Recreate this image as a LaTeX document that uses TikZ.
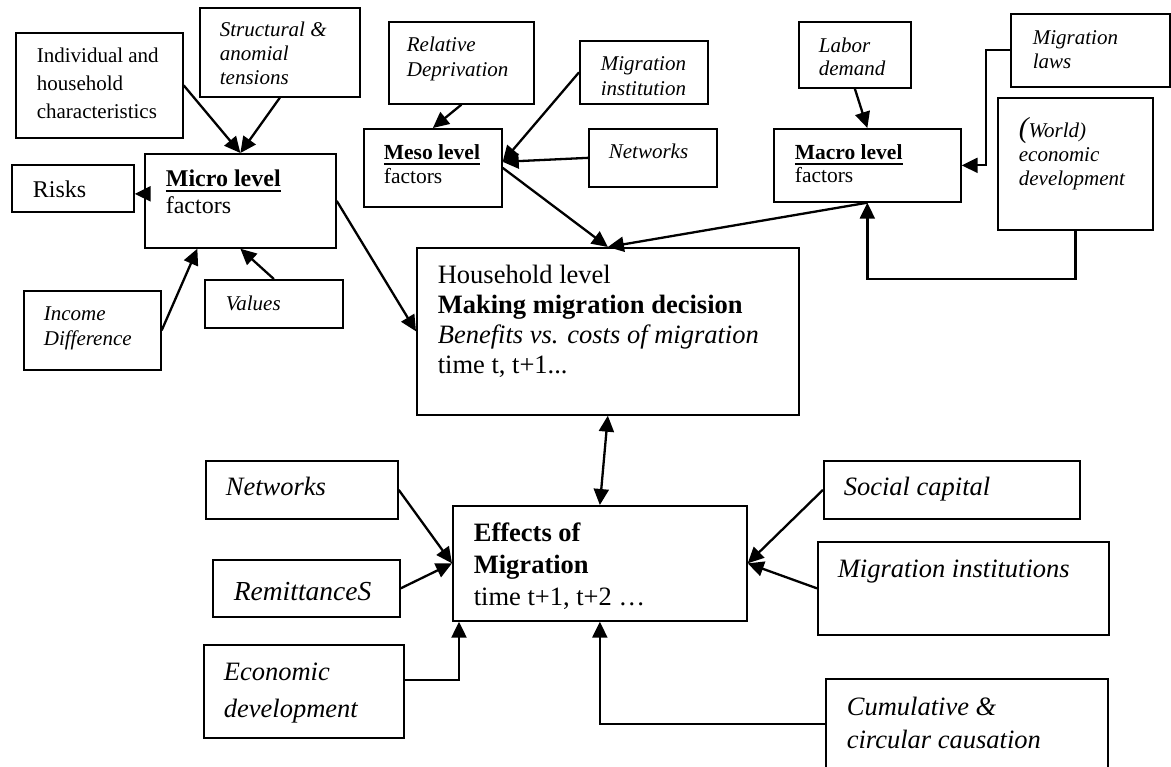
\documentclass[tikz,border=0pt]{standalone}
\usepackage{fontspec}
\setmainfont{Liberation Serif}
\usetikzlibrary{arrows.meta}

% width, height, first baseline, left margin, text
\newcommand{\boxtext}[5]{\parbox[t][#2pt][t]{#1pt}{\raggedright\leftskip=#4pt\relax\rule{0pt}{#3pt}#5}}
\newcommand{\lvlhead}[1]{\setbox0=\hbox{\bfseries #1}\rlap{\rule[-5pt]{\wd0}{2pt}}\box0}

\tikzset{
  fac/.style={draw, line width=1.7pt, inner sep=0pt, anchor=north west},
  sm/.style={font=\fontsize{21}{25}\selectfont\itshape},
  lg/.style={font=\fontsize{26.5}{30}\selectfont\itshape},
  arr/.style={line width=2.3pt, -{Triangle[length=16pt,width=15pt]}},
  dbl/.style={line width=2.3pt, {Triangle[length=16pt,width=15pt]}-{Triangle[length=16pt,width=15pt]}}
}

\begin{document}
\begin{tikzpicture}[x=1pt, y=-1pt]
\useasboundingbox (0,0) rectangle (1171,767);
\clip (0,0) rectangle (1171,767);

\node[fac, font=\fontsize{21}{28}\selectfont] (i1) at (15,32) {\boxtext{167}{105}{30}{21}{Individual and\\household\\characteristics}};
\node[fac, sm, font=\fontsize{21}{24}\selectfont\itshape] (i2) at (199,7) {\boxtext{160}{89}{29}{20}{Structural \&\\anomial\\tensions}};
\node[fac, font=\fontsize{24}{27}\selectfont] (mi) at (144,153) {\boxtext{191}{94}{33}{21}{\lvlhead{Micro level}\\factors}};
\node[fac, font=\fontsize{24}{27}\selectfont] (i3) at (11,164) {\boxtext{122}{47}{33}{21}{Risks}};
\node[fac, sm] (i4) at (23,290) {\boxtext{137}{79}{30}{20}{Income\\Difference}};
\node[fac, sm] (i5) at (204,279) {\boxtext{138}{48}{31}{21}{Values}};

\node[fac, sm] (m1) at (388,21) {\boxtext{145}{82}{30}{18}{Relative\\Deprivation}};
\node[fac, sm] (m2) at (579,40) {\boxtext{128}{63}{30}{21}{Migration\\institution}};
\node[fac, font=\fontsize{21.5}{24}\selectfont] (me) at (363,128) {\boxtext{138}{78}{31}{20}{\lvlhead{Meso level}\\factors}};
\node[fac, sm] (m3) at (588,128) {\boxtext{128}{58}{30}{20}{Networks}};

\node[fac, sm, font=\fontsize{21}{23}\selectfont\itshape] (a1) at (798,21) {\boxtext{112}{66}{31}{20}{Labor\\demand}};
\node[fac, sm, font=\fontsize{21}{23.5}\selectfont\itshape] (a2) at (1010,13) {\boxtext{159}{73}{31}{22}{Migration\\laws}};
\node[fac, font=\fontsize{21.5}{23}\selectfont] (ma) at (773,128) {\boxtext{187}{73}{31}{21}{\lvlhead{Macro level}\\factors}};
\node[fac, sm, font=\fontsize{21}{24}\selectfont\itshape] (a3) at (997,97) {\boxtext{155}{132}{40}{21}{{\fontsize{29}{24}\selectfont(}World)\\economic\\development}};

\node[fac, font=\fontsize{26.5}{30}\selectfont] (hh) at (416,247) {\boxtext{382}{167}{36}{21}{Household level\\\textbf{Making migration decision}\\\textit{Benefits vs. costs of migration}\\time t, t+1...}};
\node[fac, font=\fontsize{26.5}{32}\selectfont] (ef) at (452,505) {\boxtext{294}{115}{36}{21}{\textbf{Effects of}\\\textbf{Migration}\\time t+1, t+2 \ldots}};

\node[fac, lg] (e1) at (205,460) {\boxtext{192}{58}{35}{20}{Networks}};
\node[fac, lg, font=\fontsize{27.5}{30}\selectfont\itshape] (e2) at (212,559) {\boxtext{187}{57}{41}{21}{RemittanceS}};
\node[fac, lg, font=\fontsize{26.5}{37}\selectfont\itshape] (e3) at (203,644) {\boxtext{200}{93}{36}{20}{Economic\\development}};
\node[fac, lg] (e4) at (823,460) {\boxtext{256}{58}{35}{20}{Social capital}};
\node[fac, lg] (e5) at (817,541) {\boxtext{291}{93}{36}{20}{Migration institutions}};
\node[fac, lg, font=\fontsize{26.5}{33}\selectfont\itshape] (e6) at (825,678) {\boxtext{282}{110}{37}{21}{Cumulative \&\\circular causation}};

\draw[arr] (i1.east) -- (mi.north);
\draw[arr] (i2.south) -- (mi.north);
\draw[arr] ([yshift=7pt]mi.west) -- ([yshift=-5.5pt]i3.east);
\draw[arr] (i4.east) -- ([xshift=-43pt]mi.south);
\draw[arr] (i5.north) -- (mi.south);
\draw[arr] (mi.east) -- (hh.west);

\draw[arr] (m1.south) -- (me.north);
\draw[arr] (m2.west) -- ([yshift=6pt]me.east);
\draw[arr] (m3.west) -- ([yshift=6pt]me.east);
\draw[arr] (me.east) -- (hh.north);

\draw[arr] (a1.south) -- (ma.north);
\draw[arr] (a2.west) -- ++(-24,0) |- (ma.east);
\draw[arr] (a3.south) -- ++(0,48) -| (ma.south);
\draw[arr] (ma.south) -- (hh.north);

\draw[dbl] (hh.south) -- (ef.north);

\draw[arr] (e1.east) -- (ef.west);
\draw[arr] (e2.east) -- (ef.west);
\draw[arr] ([yshift=11.5pt]e3.east) -| ([xshift=7pt]ef.south west);
\draw[arr] (e4.west) -- (ef.east);
\draw[arr] (e5.west) -- (ef.east);
\draw[arr] ([yshift=-46pt]e6.north west) -| (ef.south);
\end{tikzpicture}
\end{document}
